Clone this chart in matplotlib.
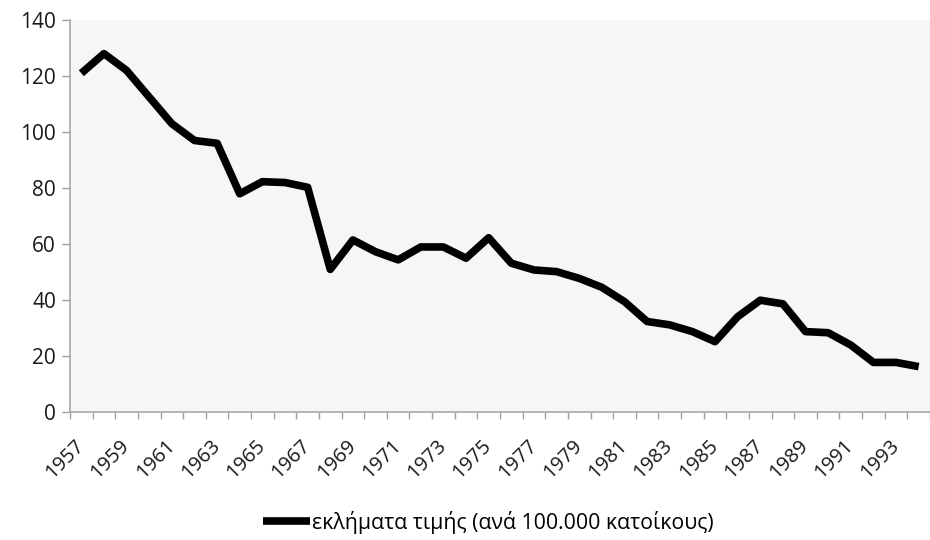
import numpy as np
import matplotlib.pyplot as plt

years = list(range(1957, 1995))
values = [121, 128, 122, 112.5, 103, 97, 96, 78, 82.3, 82, 80.3, 51,
          61.5, 57.3, 54.4, 59, 59, 55, 62.3, 53.2, 50.8, 50.2, 47.8, 44.6,
          39.5, 32.4, 31.2, 28.8, 25.2, 34.1, 40, 38.7, 28.8, 28.4, 24,
          17.8, 17.8, 16.3]
label = 'εκλήματα τιμής (ανά 100.000 κατοίκους)'

plt.rcParams['font.family'] = ['Open Sans', 'DejaVu Sans']

fig = plt.figure(figsize=(9.3, 5.4), dpi=100)
ax = fig.add_axes([70/930, 1 - 412.3/540, 1 - 70/930, (412.3 - 20)/540])
ax.set_facecolor('#f5f7f6')

x = np.arange(len(years))
ax.plot(x, values, color='black', linewidth=5.5, solid_joinstyle='round',
        solid_capstyle='butt', label=label)

ax.set_ylim(0, 140)
ax.set_yticks(range(0, 141, 20))
ax.set_xlim(-0.5, 36.97)

ax.set_xticks(x[::2])
ax.set_xticklabels([str(y) for y in years[::2]], rotation=45, ha='right',
                   va='center', rotation_mode='anchor', fontsize=14.5,
                   color='#1a1a1a')
ax.set_xticks(np.arange(-0.5, 38, 1), minor=True)
ax.tick_params(axis='x', which='major', length=0, pad=22)
ax.tick_params(axis='x', which='minor', length=5, color='#a0a0a0', width=1)
ax.tick_params(axis='y', length=6, color='#a0a0a0', width=1, labelsize=15,
               labelcolor='#1a1a1a', pad=4)

for s in ['top', 'right']:
    ax.spines[s].set_visible(False)
for s in ['left', 'bottom']:
    ax.spines[s].set_color('#a8a8a8')
    ax.spines[s].set_linewidth(1.2)

fig.legend(loc='center', bbox_to_anchor=(488/930, 1 - 522/540), frameon=False,
           fontsize=15.3, handlelength=2.2, handletextpad=0.1)

fig.savefig('out.png', dpi=100)
